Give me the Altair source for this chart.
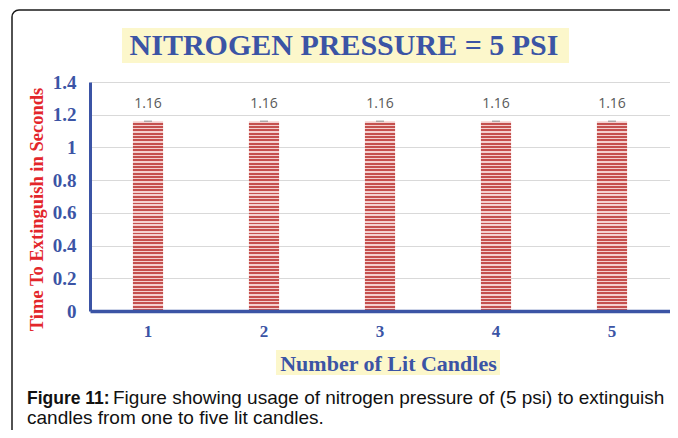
import altair as alt
import pandas as pd

# ---- data ----
candles = ["1", "2", "3", "4", "5"]
times = [1.16, 1.16, 1.16, 1.16, 1.16]
y_ticks = [0, 0.2, 0.4, 0.6, 0.8, 1.0, 1.2, 1.4]
title_text = ["NITROGEN PRESSURE = 5 PSI"]
x_title = "Number of Lit Candles"
y_title = "Time To Extinguish in Seconds"
caption_bold = ["Figure 11:"]
caption_line1 = ["Figure showing usage of nitrogen pressure of (5 psi) to extinguish"]
caption_line2 = ["candles from one to five lit candles."]

df = pd.DataFrame({"Candles": candles, "Time": times})

BLUE = "#3b54a5"
RED = "#c5504e"
LIGHT = "#f4cfce"
YELLOW = "#fcf7cb"
SERIF = "Liberation Serif"
SANS = "Liberation Sans"

W, H = 658, 420

# striped fill (style only)
n_stripes = 57
stops = []
for i in range(n_stripes):
    a = i / n_stripes
    m = (i + 0.42) / n_stripes
    b = (i + 1) / n_stripes
    stops += [
        alt.GradientStop(color=LIGHT, offset=a),
        alt.GradientStop(color=LIGHT, offset=m),
        alt.GradientStop(color=RED, offset=m),
        alt.GradientStop(color=RED, offset=b),
    ]
stripes = alt.Gradient(gradient="linear", stops=stops, x1=0, x2=0, y1=0, y2=1)

x_enc = alt.X(
    "Candles:O",
    scale=alt.Scale(range=[78, 658], paddingInner=0.74, paddingOuter=0.37),
    axis=alt.Axis(
        title=x_title, labelAngle=0, offset=-(H - 301), domainColor=BLUE, domainWidth=3.5,
        ticks=False, grid=False, labelFont=SERIF, labelFontWeight="bold",
        labelFontSize=17, labelColor=BLUE, labelPadding=12,
        titleFont=SERIF, titleFontWeight="bold", titleFontSize=22, titleColor=BLUE,
        titleX=376, titleY=59, titleBaseline="alphabetic", titleAnchor="middle",
        zindex=1,
    ),
)
y_enc = alt.Y(
    "Time:Q",
    scale=alt.Scale(domain=[0, 1.4], range=[301, 72], nice=False, zero=True),
    axis=alt.Axis(
        title=y_title, values=y_ticks, format="~g", offset=-78, domainColor=BLUE,
        domainWidth=3, ticks=False, grid=True, gridColor="#d9d9d9", gridWidth=1,
        labelFont=SERIF, labelFontWeight="bold", labelFontSize=19, labelColor=BLUE,
        labelPadding=14, titleFont=SERIF, titleFontWeight="bold", titleFontSize=18.5,
        titleColor="#e3262b", titleAngle=270, titleX=-54, titleY=199,
        titleAlign="center", titleBaseline="middle", zindex=0,
    ),
)

base = alt.Chart(df)
bars = base.mark_bar(color=stripes, strokeWidth=0).encode(x=x_enc, y=y_enc)
caps = base.mark_tick(size=8, thickness=1.5, color="#8f8f8f").encode(x="Candles:O", y="Time:Q")
labels = base.mark_text(dy=-13, baseline="alphabetic", font="Open Sans", fontSize=14,
                        color="#595959").encode(x="Candles:O", y="Time:Q", text=alt.Text("Time:Q", format=".2f"))

one = pd.DataFrame({"k": [0]})
frame = alt.Chart(one).mark_rect(
    fillOpacity=0, stroke="#1a1a1a", strokeWidth=1.5, cornerRadius=7
).encode(x=alt.value(0), x2=alt.value(720), y=alt.value(0), y2=alt.value(520))
title_box = alt.Chart(one).mark_rect(color=YELLOW).encode(
    x=alt.value(110), x2=alt.value(557), y=alt.value(18), y2=alt.value(53))
xtitle_box = alt.Chart(one).mark_rect(color=YELLOW).encode(
    x=alt.value(264), x2=alt.value(488), y=alt.value(340), y2=alt.value(365))

title = alt.Chart(pd.DataFrame({"t": title_text})).mark_text(
    font=SERIF, fontWeight="bold", fontSize=30, color=BLUE, align="center", baseline="alphabetic"
).encode(x=alt.value(332), y=alt.value(45), text="t:N")

cap_b = alt.Chart(pd.DataFrame({"t": caption_bold})).mark_text(
    font=SANS, fontWeight="bold", fontSize=17.5, color="#111111", align="left", baseline="alphabetic"
).encode(x=alt.value(15), y=alt.value(394), text="t:N")
cap_1 = alt.Chart(pd.DataFrame({"t": caption_line1})).mark_text(
    font=SANS, fontSize=19, color="#111111", align="left", baseline="alphabetic"
).encode(x=alt.value(101), y=alt.value(394), text="t:N")
cap_2 = alt.Chart(pd.DataFrame({"t": caption_line2})).mark_text(
    font=SANS, fontSize=19, color="#111111", align="left", baseline="alphabetic"
).encode(x=alt.value(15), y=alt.value(414), text="t:N")

chart = alt.layer(
    title_box, xtitle_box, bars, caps, labels, title, cap_b, cap_1, cap_2, frame
).properties(
    width=W, height=H,
    padding={"left": 4, "top": 2, "right": 0, "bottom": 0},
    autosize=alt.AutoSizeParams(type="none"),
    background="white",
).configure_view(stroke=None, fill="white")

chart.save("out.html", embed_options={"renderer": "svg", "actions": False})
